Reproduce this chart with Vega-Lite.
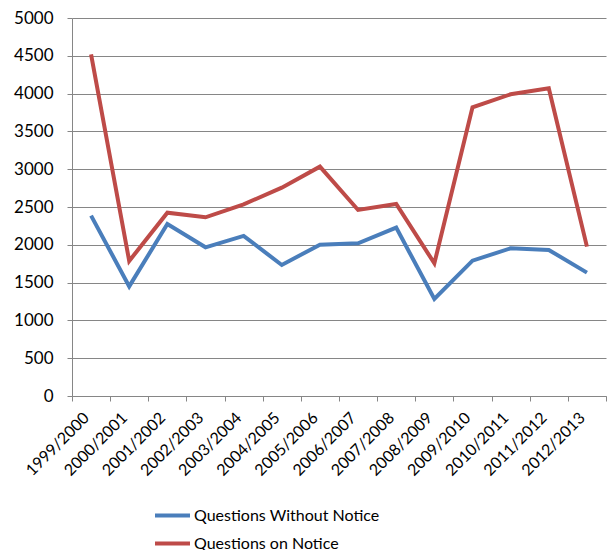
{
  "$schema": "https://vega.github.io/schema/vega-lite/v6.json",
  "width": 534,
  "height": 378,
  "autosize": {"type": "none"},
  "padding": {"left": 72, "top": 18, "right": 1, "bottom": 154},
  "background": "white",
  "config": {
    "font": "Lato",
    "view": {"stroke": null},
    "axis": {"labelFont": "Lato", "labelColor": "#000000"}
  },
  "data": {
    "values": [
      {"year": "1999/2000", "series": "Questions Without Notice", "value": 2386},
      {"year": "2000/2001", "series": "Questions Without Notice", "value": 1450},
      {"year": "2001/2002", "series": "Questions Without Notice", "value": 2276},
      {"year": "2002/2003", "series": "Questions Without Notice", "value": 1967},
      {"year": "2003/2004", "series": "Questions Without Notice", "value": 2117},
      {"year": "2004/2005", "series": "Questions Without Notice", "value": 1733},
      {"year": "2005/2006", "series": "Questions Without Notice", "value": 2002},
      {"year": "2006/2007", "series": "Questions Without Notice", "value": 2020},
      {"year": "2007/2008", "series": "Questions Without Notice", "value": 2227},
      {"year": "2008/2009", "series": "Questions Without Notice", "value": 1283},
      {"year": "2009/2010", "series": "Questions Without Notice", "value": 1790},
      {"year": "2010/2011", "series": "Questions Without Notice", "value": 1954},
      {"year": "2011/2012", "series": "Questions Without Notice", "value": 1932},
      {"year": "2012/2013", "series": "Questions Without Notice", "value": 1632},
      {"year": "1999/2000", "series": "Questions on Notice", "value": 4520},
      {"year": "2000/2001", "series": "Questions on Notice", "value": 1786},
      {"year": "2001/2002", "series": "Questions on Notice", "value": 2425},
      {"year": "2002/2003", "series": "Questions on Notice", "value": 2364},
      {"year": "2003/2004", "series": "Questions on Notice", "value": 2535},
      {"year": "2004/2005", "series": "Questions on Notice", "value": 2756},
      {"year": "2005/2006", "series": "Questions on Notice", "value": 3034},
      {"year": "2006/2007", "series": "Questions on Notice", "value": 2461},
      {"year": "2007/2008", "series": "Questions on Notice", "value": 2540},
      {"year": "2008/2009", "series": "Questions on Notice", "value": 1755},
      {"year": "2009/2010", "series": "Questions on Notice", "value": 3819},
      {"year": "2010/2011", "series": "Questions on Notice", "value": 3991},
      {"year": "2011/2012", "series": "Questions on Notice", "value": 4070},
      {"year": "2012/2013", "series": "Questions on Notice", "value": 1976}
    ]
  },
  "mark": {"type": "line", "strokeWidth": 4, "strokeJoin": "miter"},
  "encoding": {
    "x": {
      "field": "year",
      "type": "nominal",
      "sort": null,
      "scale": {"type": "band", "paddingInner": 0, "paddingOuter": 0},
      "axis": {
        "title": null,
        "tickBand": "extent",
        "grid": false,
        "labelAngle": -45,
        "labelAlign": "right",
        "labelBaseline": "middle",
        "labelFontSize": 16,
        "labelPadding": 14,
        "tickSize": 5,
        "tickColor": "#868686",
        "domainColor": "#868686",
        "labelOffset": -5
      }
    },
    "y": {
      "field": "value",
      "type": "quantitative",
      "scale": {"domain": [0, 5000], "nice": false},
      "axis": {
        "title": null,
        "format": "d",
        "values": [0, 500, 1000, 1500, 2000, 2500, 3000, 3500, 4000, 4500, 5000],
        "labelFontSize": 17,
        "labelPadding": 14,
        "tickSize": 5,
        "tickColor": "#868686",
        "gridColor": "#868686",
        "gridWidth": 1,
        "domainColor": "#868686"
      }
    },
    "color": {
      "field": "series",
      "type": "nominal",
      "sort": ["Questions Without Notice", "Questions on Notice"],
      "scale": {"range": ["#4A7EBB", "#BE4B48"]},
      "legend": {
        "title": null,
        "orient": "none",
        "legendX": 81,
        "legendY": 478,
        "direction": "vertical",
        "symbolType": "stroke",
        "symbolSize": 1225,
        "symbolStrokeWidth": 4,
        "labelFontSize": 16,
        "labelFont": "Lato",
        "labelColor": "#000000",
        "labelLimit": 0,
        "rowPadding": -10,
        "symbolOffset": 0,
        "labelOffset": 2,
        "padding": 0
      }
    }
  }
}
